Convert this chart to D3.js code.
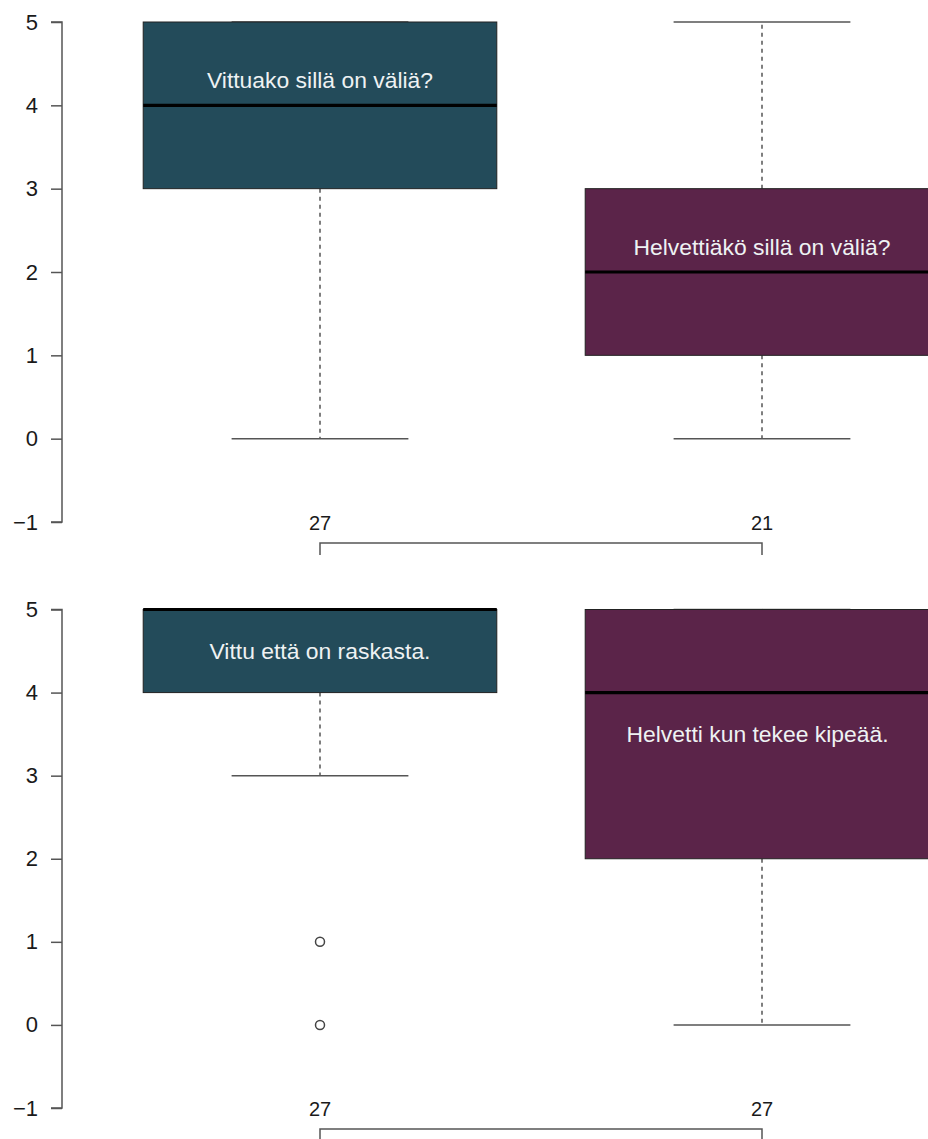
<!DOCTYPE html>
<html>
<head>
<meta charset="utf-8">
<script src="https://cdn.jsdelivr.net/npm/d3@7"></script>
<style>
  html, body { margin: 0; padding: 0; background: #fff; }
  svg { display: block; font-family: "Liberation Sans", Arial, Helvetica, sans-serif; }
</style>
</head>
<body>
<svg id="chart" width="928" height="1139"></svg>
<script>
// Two stacked box-plot panels, one per pair of phrases
const panels = ["top", "bottom"];
const groupPositions = [1, 2];
const boxColors = ["#234b5a", "#5b2449"];

// Five-number summaries per panel: [lower whisker, Q1, median, Q3, upper whisker]
const topStats = [[0, 3, 4, 5, 5], [0, 1, 2, 3, 5]];
const bottomStats = [[3, 4, 5, 5, 5], [0, 2, 4, 5, 5]];
const topOutliers = [[], []];
const bottomOutliers = [[1, 0], []];

// Group counts shown under each box
const topCounts = ["27", "21"];
const bottomCounts = ["27", "27"];

// Phrases written inside the boxes and the point they are centred on
const topLabels = ["Vittuako sillä on väliä?", "Helvettiäkö sillä on väliä?"];
const bottomLabels = ["Vittu että on raskasta.", "Helvetti kun tekee kipeää."];
const topLabelX = [1, 2];
const bottomLabelX = [1, 1.99];
const topLabelAt = [4.3, 2.3];
const bottomLabelAt = [4.5, 3.5];

const yTicks = [-1, 0, 1, 2, 3, 4, 5];

const panelData = {
  top: { stats: topStats, outliers: topOutliers, counts: topCounts, labels: topLabels, labelX: topLabelX, labelAt: topLabelAt, range: [522, 22] },
  bottom: { stats: bottomStats, outliers: bottomOutliers, counts: bottomCounts, labels: bottomLabels, labelX: bottomLabelX, labelAt: bottomLabelAt, range: [1108, 609.5] }
};

const svg = d3.select("#chart");
const x = d3.scaleLinear().domain([1, 2]).range([320, 762]);
const boxHalf = (x(2) - x(1)) * 0.4;
const capHalf = boxHalf * 0.5;
const axisX = 62;
const ink = "#555";

panels.forEach(key => {
  const p = panelData[key];
  const y = d3.scaleLinear().domain([-1, 5]).range(p.range);
  const g = svg.append("g");

  // y axis
  const ax = g.append("g")
    .attr("transform", `translate(${axisX},0)`)
    .call(d3.axisLeft(y).tickValues(yTicks).tickSize(11).tickPadding(13)
      .tickFormat(d => d < 0 ? "\u2212" + Math.abs(d) : String(d)));
  ax.select(".domain").attr("stroke", ink).attr("stroke-width", 1.5)
    .attr("d", `M-11,${y(5)}H0V${y(-1)}H-11`);
  ax.selectAll(".tick line").attr("stroke", ink).attr("stroke-width", 1.5);
  ax.selectAll(".tick text").attr("font-size", 22).attr("fill", "#1a1a1a")
    .attr("font-family", "Liberation Sans, Arial, sans-serif");

  const boxes = g.selectAll("g.box")
    .data(p.stats.map((s, i) => ({ s, i, pos: groupPositions[i] })))
    .join("g").attr("class", "box");

  // dashed whiskers
  boxes.append("line")
    .attr("x1", d => x(d.pos)).attr("x2", d => x(d.pos))
    .attr("y1", d => y(d.s[1])).attr("y2", d => y(d.s[0]))
    .attr("stroke", ink).attr("stroke-width", 1.5).attr("stroke-dasharray", "4,4");
  boxes.append("line")
    .attr("x1", d => x(d.pos)).attr("x2", d => x(d.pos))
    .attr("y1", d => y(d.s[3])).attr("y2", d => y(d.s[4]))
    .attr("stroke", ink).attr("stroke-width", 1.5).attr("stroke-dasharray", "4,4");

  // whisker caps
  [0, 4].forEach(k => {
    boxes.append("line")
      .attr("x1", d => x(d.pos) - capHalf).attr("x2", d => x(d.pos) + capHalf)
      .attr("y1", d => y(d.s[k])).attr("y2", d => y(d.s[k]))
      .attr("stroke", ink).attr("stroke-width", 1.5);
  });

  // box body
  boxes.append("rect")
    .attr("x", d => x(d.pos) - boxHalf).attr("width", boxHalf * 2)
    .attr("y", d => y(d.s[3])).attr("height", d => y(d.s[1]) - y(d.s[3]))
    .attr("fill", d => boxColors[d.i]).attr("stroke", "#222").attr("stroke-width", 1);

  // median
  boxes.append("line")
    .attr("x1", d => x(d.pos) - boxHalf).attr("x2", d => x(d.pos) + boxHalf)
    .attr("y1", d => y(d.s[2])).attr("y2", d => y(d.s[2]))
    .attr("stroke", "#000").attr("stroke-width", 3.2);

  // outliers
  boxes.each(function (d) {
    d3.select(this).selectAll("circle")
      .data(p.outliers[d.i])
      .join("circle")
      .attr("cx", x(d.pos)).attr("cy", v => y(v)).attr("r", 4.5)
      .attr("fill", "none").attr("stroke", "#444").attr("stroke-width", 1.5);
  });

  // phrase inside each box
  boxes.append("text")
    .attr("x", d => x(p.labelX[d.i])).attr("y", d => y(p.labelAt[d.i]))
    .attr("dy", "0.35em").attr("text-anchor", "middle")
    .attr("font-size", 22.9).attr("fill", "#eef2f3")
    .text(d => p.labels[d.i]);

  // counts and bracket beneath the panel
  const base = y(-1);
  g.selectAll("text.count")
    .data(p.counts)
    .join("text").attr("class", "count")
    .attr("x", (d, i) => x(groupPositions[i])).attr("y", base + 8)
    .attr("text-anchor", "middle").attr("font-size", 20).attr("fill", "#1a1a1a")
    .text(d => d);
  g.append("path")
    .attr("d", `M${x(1)},${base + 33}V${base + 21}H${x(2)}V${base + 33}`)
    .attr("fill", "none").attr("stroke", ink).attr("stroke-width", 1.5);
});
</script>
</body>
</html>
